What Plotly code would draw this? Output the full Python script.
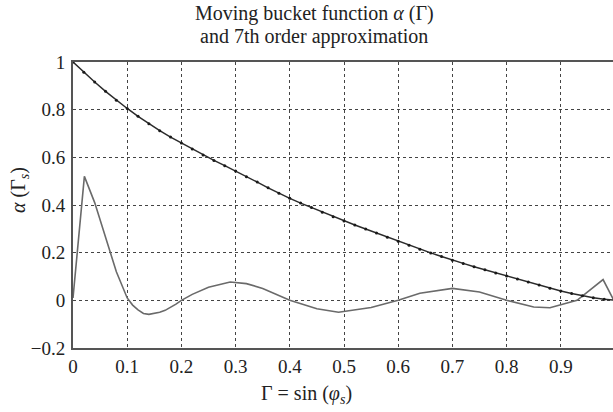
import plotly.graph_objects as go

# Moving bucket function alpha(Gamma) (dotted dark curve)
gamma_alpha = [0.00, 0.02, 0.04, 0.06, 0.08, 0.10, 0.12, 0.14, 0.16, 0.18,
               0.20, 0.22, 0.24, 0.26, 0.28, 0.30, 0.32, 0.34, 0.36, 0.38,
               0.40, 0.42, 0.44, 0.46, 0.48, 0.50, 0.52, 0.54, 0.56, 0.58,
               0.60, 0.62, 0.64, 0.66, 0.68, 0.70, 0.72, 0.74, 0.76, 0.78,
               0.80, 0.82, 0.84, 0.86, 0.88, 0.90, 0.92, 0.94, 0.96, 0.98, 1.00]
alpha_vals = [1.000, 0.957, 0.916, 0.877, 0.840, 0.805, 0.772, 0.741, 0.712, 0.685,
              0.660, 0.635, 0.610, 0.587, 0.565, 0.543, 0.519, 0.496, 0.472, 0.449,
              0.428, 0.408, 0.389, 0.370, 0.351, 0.333, 0.316, 0.299, 0.282, 0.265,
              0.248, 0.231, 0.214, 0.199, 0.184, 0.168, 0.155, 0.141, 0.128, 0.115,
              0.102, 0.090, 0.077, 0.064, 0.051, 0.039, 0.029, 0.019, 0.011, 0.005, 0.000]

# Approximation error curve (grey)
gamma_err = [0.000, 0.021, 0.040, 0.060, 0.080, 0.100, 0.110, 0.120, 0.130, 0.140,
             0.150, 0.160, 0.170, 0.180, 0.190, 0.200, 0.220, 0.250, 0.290, 0.320,
             0.350, 0.400, 0.450, 0.490, 0.550, 0.600, 0.640, 0.700, 0.750, 0.800,
             0.850, 0.880, 0.900, 0.930, 0.978, 1.000]
err_vals = [0.010, 0.520, 0.410, 0.260, 0.120, 0.010, -0.020, -0.040, -0.055, -0.059,
            -0.056, -0.050, -0.042, -0.030, -0.016, 0.000, 0.025, 0.055, 0.077, 0.070,
            0.050, 0.000, -0.035, -0.050, -0.030, 0.000, 0.030, 0.050, 0.035, 0.000,
            -0.028, -0.031, -0.018, 0.000, 0.087, -0.010]

x_ticks = [0, 0.1, 0.2, 0.3, 0.4, 0.5, 0.6, 0.7, 0.8, 0.9]
x_ticklabels = ["0", "0.1", "0.2", "0.3", "0.4", "0.5", "0.6", "0.7", "0.8", "0.9"]
y_ticks = [-0.2, 0, 0.2, 0.4, 0.6, 0.8, 1]
y_ticklabels = ["\u22120.2", "0", "0.2", "0.4", "0.6", "0.8", "1"]

FONT = "Liberation Serif"
FS = 19
X_MAX = 0.9963
PW, PH = 540, 286  # plot area size in px

fig = go.Figure()
fig.add_trace(go.Scatter(x=gamma_err, y=err_vals, mode="lines",
                         line=dict(color="#6a6a6a", width=1.6),
                         showlegend=False))
fig.add_trace(go.Scatter(x=gamma_alpha, y=alpha_vals, mode="lines+markers",
                         line=dict(color="#2b2b2b", width=1.5),
                         marker=dict(color="#1a1a1a", size=3),
                         showlegend=False))

fig.update_layout(
    width=613, height=412,
    margin=dict(l=73, r=0, t=62, b=64, autoexpand=False),
    paper_bgcolor="white", plot_bgcolor="white",
    font=dict(family=FONT, size=FS, color="#222"),
    xaxis=dict(range=[0, X_MAX], tickvals=x_ticks, ticktext=x_ticklabels,
               showgrid=True, gridcolor="#444", griddash="dot", gridwidth=1,
               zeroline=False, showline=True, linecolor="#555", linewidth=1.8,
               mirror=True, ticks="", ticklabelstandoff=0, automargin=False,
               tickfont=dict(family=FONT, size=FS, color="#222")),
    yaxis=dict(range=[-0.2, 1], tickvals=y_ticks, ticktext=y_ticklabels,
               showgrid=True, gridcolor="#444", griddash="dot", gridwidth=1,
               zeroline=False, showline=True, linecolor="#555", linewidth=1.8,
               mirror=False, ticks="", ticklabelstandoff=2, automargin=False,
               tickfont=dict(family=FONT, size=FS, color="#222")),
    annotations=[
        dict(text="Moving bucket function <i>\u03b1</i> (\u0393)", xref="paper", yref="paper",
             x=(314 - 73) / PW, y=1 + (62 - 13) / PH, xanchor="center", yanchor="middle",
             showarrow=False, font=dict(family=FONT, size=20, color="#222")),
        dict(text="and 7th order approximation", xref="paper", yref="paper",
             x=(314 - 73) / PW, y=1 + (62 - 37) / PH, xanchor="center", yanchor="middle",
             showarrow=False, font=dict(family=FONT, size=20, color="#222")),
        dict(text="\u0393 = sin (<i>\u03c6<sub>s</sub></i>)", xref="paper", yref="paper",
             x=(306 - 73) / PW, y=-(394 - 348) / PH, xanchor="center", yanchor="middle",
             showarrow=False, font=dict(family=FONT, size=20, color="#222")),
        dict(text="<i>\u03b1</i> (\u0393<sub><i>s</i></sub>)", xref="paper", yref="paper",
             x=-(73 - 19) / PW, y=(348 - 190) / PH, xanchor="center", yanchor="middle",
             textangle=-90, showarrow=False, font=dict(family=FONT, size=20, color="#222")),
        dict(text="1", xref="paper", yref="paper",
             x=1 / X_MAX + 2 / PW, y=-(364 - 348) / PH, xanchor="center", yanchor="middle",
             showarrow=False, font=dict(family=FONT, size=FS, color="#222")),
    ],
)

fig.write_html("out.html",
               config={"displayModeBar": False},
               post_script="document.body.style.margin='0';document.body.style.overflow='hidden';")
